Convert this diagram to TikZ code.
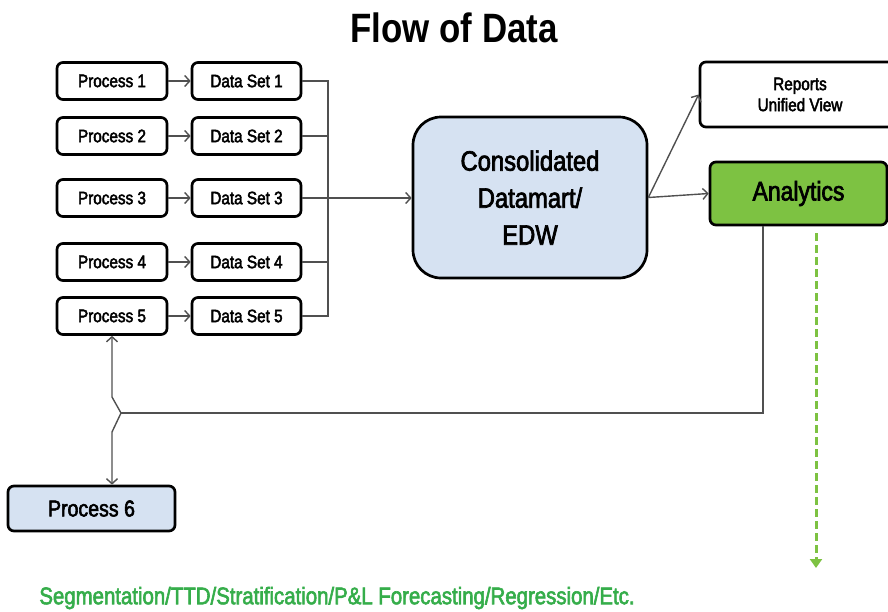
\documentclass[tikz,border=0pt]{standalone}
\usepackage{fontspec}
\setmainfont{Liberation Sans}[FakeStretch=0.85, FakeBold=2.5]
\newfontfamily\titlefont{Liberation Sans}[FakeStretch=0.85]
\usetikzlibrary{arrows.meta}
\definecolor{lblue}{HTML}{D6E2F2}
\definecolor{agreen}{HTML}{7DC242}
\definecolor{tgreen}{HTML}{35AD4A}
\definecolor{lgray}{HTML}{505050}
\begin{document}
\begin{tikzpicture}[x=1pt,y=-1pt,
  box/.style={draw=black, line width=2.7pt, rounded corners=6pt, fill=white, inner sep=0pt, align=center},
  proc/.style={box, minimum width=110pt, minimum height=37pt, font=\fontsize{18}{20}\selectfont},
  conn/.style={draw=lgray, line width=1.4pt},
  arr/.style={conn, -{Straight Barb[length=5pt,width=11pt]}}
]
\clip (0,0) rectangle (888,611);
\useasboundingbox (0,0) rectangle (888,611);

\node[font=\titlefont\fontsize{41}{44}\selectfont\bfseries] (title) at (454,28) {Flow of Data};

\foreach \i/\y in {1/81,2/136,3/198,4/262,5/316}{
  \node[proc] (p\i) at (112,\y) {Process \i};
  \node[proc, minimum width=109pt] (d\i) at (246.5,\y) {Data Set \i};
  \draw[arr] (p\i) -- (d\i);
}

\node[box, fill=lblue, rounded corners=28pt, minimum width=234pt, minimum height=161pt,
      font=\fontsize{28}{37}\selectfont] (cdw) at (530,197.5) {Consolidated\\Datamart/\\EDW};

\node[box, minimum width=200pt, minimum height=65pt, font=\fontsize{18}{21}\selectfont] (rep) at (800,94.5) {Reports\\Unified View};
\node[box, fill=agreen, minimum width=177pt, minimum height=63pt, font=\fontsize{27}{30}\selectfont] (an) at (798.5,193.5) {Analytics};
\node[box, fill=lblue, minimum width=167pt, minimum height=45pt, font=\fontsize{23}{26}\selectfont] (p6) at (91.5,508.5) {Process 6};

% bus from data sets
\coordinate (bus) at (328,0);
\draw[conn] (d1.east) -- (d1.east -| bus) -- (d5.east -| bus) -- (d5.east);
\draw[conn] (d2.east) -- (d2.east -| bus);
\draw[conn] (d4.east) -- (d4.east -| bus);
\draw[arr] (d3.east) -- (cdw.west |- d3.east);

\draw[arr] (cdw.east) -- (rep.west);
\draw[arr] (cdw.east) -- (an.west);

% feedback line with jump
\coordinate (j) at (763,413);
\coordinate (jt) at (112,397);
\coordinate (jb) at (121,413);
\coordinate (jd) at (112,432);
\draw[conn] (an.south -| j) -- (j) -- (jb);
\draw[conn, {Straight Barb[length=5pt,width=11pt]}-{Straight Barb[length=5pt,width=11pt]}]
  (p5.south) -- (jt) -- (jb) -- (jd) -- (p6.north -| jd);

% green dashed arrow
\coordinate (ge) at (816,568);
\draw[draw=agreen, line width=3pt, dash pattern=on 8pt off 4pt, -{Triangle[length=9pt,width=12pt]}, shorten <=7pt]
  (an.south -| ge) -- (ge);

\node[text=tgreen, font=\fontsize{24}{27}\selectfont] (seg) at (337,598) {Segmentation/TTD/Stratification/P\&L Forecasting/Regression/Etc.};
\end{tikzpicture}
\end{document}
